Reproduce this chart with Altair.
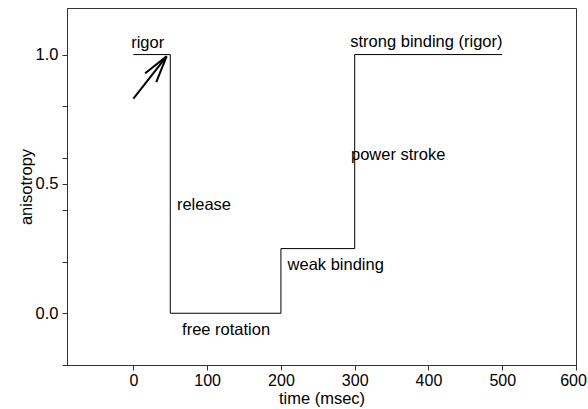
import altair as alt
import pandas as pd

# step trace
step_time = [0, 50, 50, 200, 200, 300, 300, 500]
step_aniso = [1.0, 1.0, 0.0, 0.0, 0.25, 0.25, 1.0, 1.0]

# annotations
label_text = ["rigor", "release", "free rotation", "weak binding", "power stroke", "strong binding (rigor)"]
label_x = [-3, 59, 66, 209, 295, 294]
label_y = [1.045, 0.42, -0.065, 0.185, 0.61, 1.048]

# arrow segments (shaft + two head wings)
arrow_x1 = [0, 45, 45]
arrow_y1 = [0.83, 0.993, 0.993]
arrow_x2 = [45, 16, 31]
arrow_y2 = [0.993, 0.928, 0.893]

x_ticks = [0, 100, 200, 300, 400, 500, 600]
y_ticks = [-0.2, 0.0, 0.2, 0.4, 0.5, 0.6, 0.8, 1.0]
x_domain = [-90, 600]
y_domain = [-0.2, 1.18]

step_df = pd.DataFrame({"t": step_time, "a": step_aniso, "o": list(range(len(step_time)))})
lab_df = pd.DataFrame({"text": label_text, "x": label_x, "y": label_y})
arr_df = pd.DataFrame({"x": arrow_x1, "y": arrow_y1, "x2": arrow_x2, "y2": arrow_y2})

FONT = "Liberation Sans"
FS = 16.5

xs = alt.Scale(domain=x_domain, nice=False, zero=False)
ys = alt.Scale(domain=y_domain, nice=False, zero=False)

xaxis = alt.Axis(values=x_ticks, title="time (msec)", grid=False, format="d",
                 labelFont=FONT, titleFont=FONT, labelFontSize=16, titleFontSize=FS,
                 titleFontWeight="normal", labelColor="black", titleColor="black",
                 domainColor="#333", tickColor="#333", tickSize=5, labelPadding=2,
                 titlePadding=2, labelFlush=False,
                 labelOffset={"condition": {"test": "datum.value == 600", "value": -3}, "value": 0})
yaxis = alt.Axis(values=y_ticks, title="anisotropy", grid=False,
                 labelExpr="(abs(datum.value) < 0.001 || abs(datum.value-0.5) < 0.001 || abs(datum.value-1) < 0.001) ? format(datum.value, '.1f') : ''",
                 labelFont=FONT, titleFont=FONT, labelFontSize=FS, titleFontSize=FS,
                 titleFontWeight="normal", labelColor="black", titleColor="black",
                 domainColor="#333", tickColor="#333", tickSize=5, labelPadding=4,
                 titlePadding=1, labelFlush=False)

line = alt.Chart(step_df).mark_line(color="black", strokeWidth=1).encode(
    x=alt.X("t:Q", scale=xs, axis=xaxis),
    y=alt.Y("a:Q", scale=ys, axis=yaxis),
    order="o:Q",
)

arrow = alt.Chart(arr_df).mark_rule(color="black", strokeWidth=2).encode(
    x=alt.X("x:Q", scale=xs), y=alt.Y("y:Q", scale=ys), x2="x2:Q", y2="y2:Q"
)

labels = alt.Chart(lab_df).mark_text(align="left", baseline="middle", font=FONT,
                                     fontSize=FS, color="black").encode(
    x=alt.X("x:Q", scale=xs), y=alt.Y("y:Q", scale=ys), text="text:N"
)

chart = alt.layer(line, arrow, labels).properties(
    width=509, height=357,
    padding={"left": 67, "top": 8, "right": 12, "bottom": 44},
    autosize=alt.AutoSizeParams(type="none"),
    background="white",
).configure_view(stroke="#333", strokeWidth=1)

chart.save("out.html", embed_options={"renderer": "svg", "actions": False})
